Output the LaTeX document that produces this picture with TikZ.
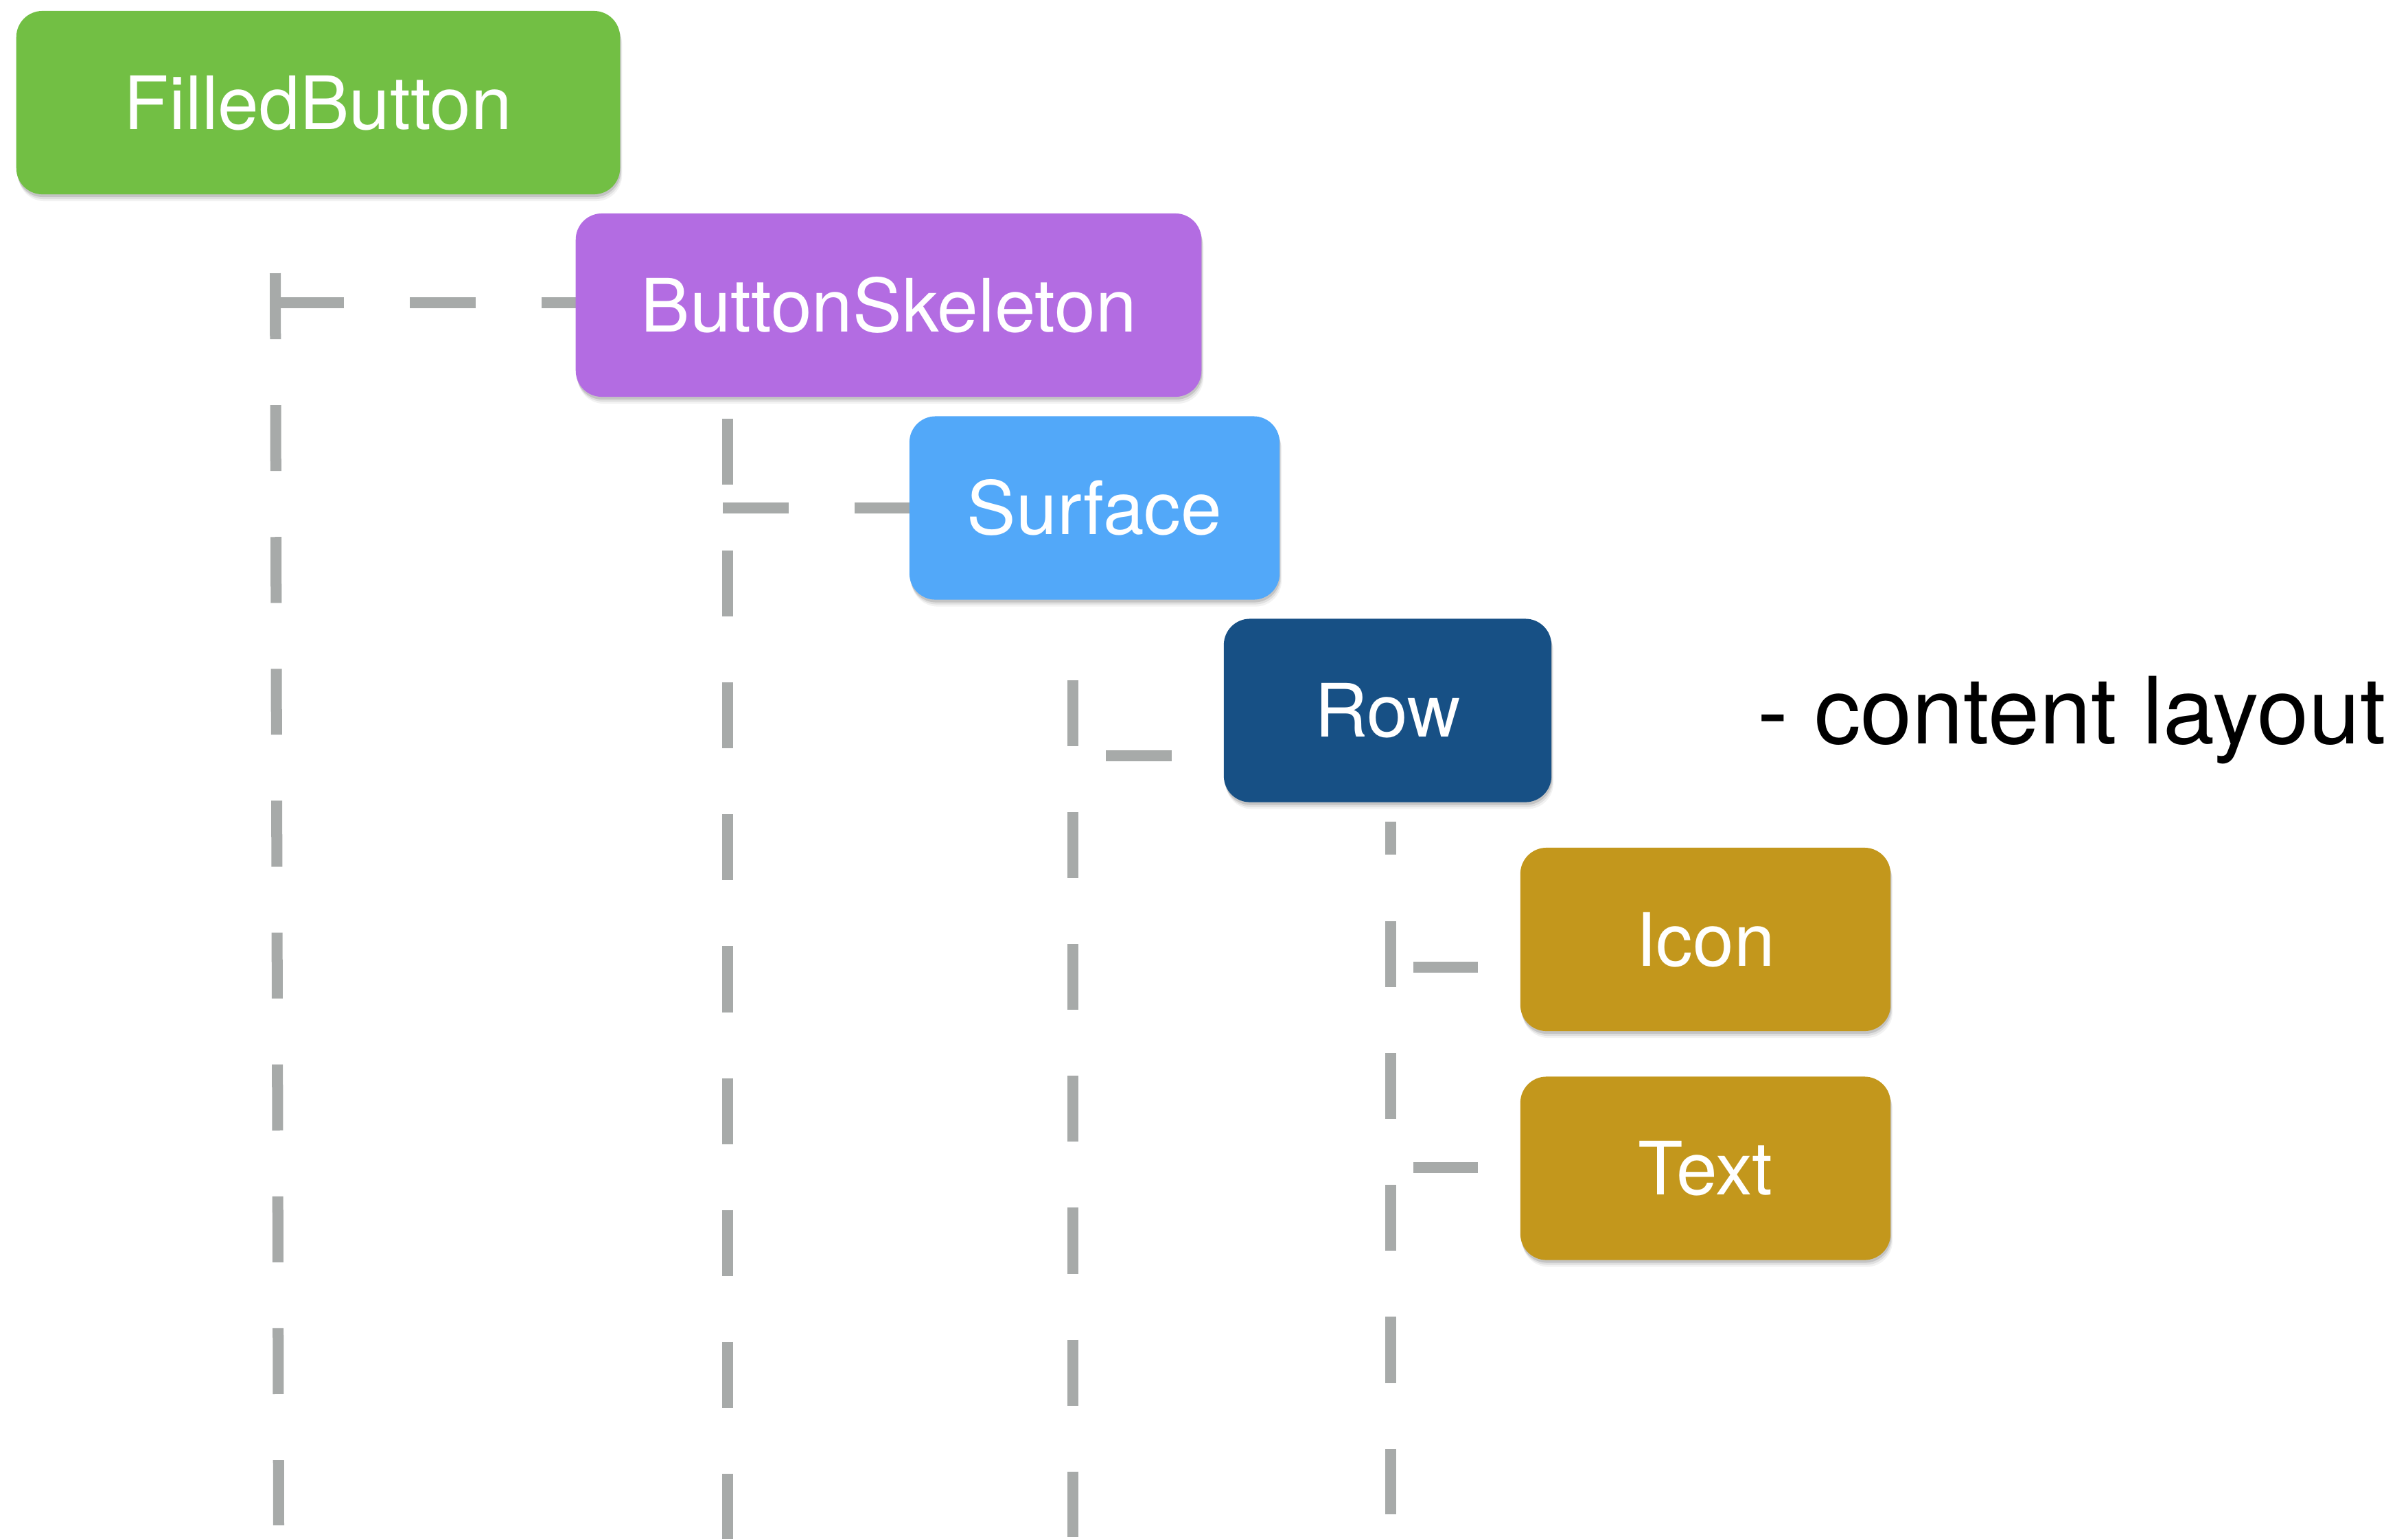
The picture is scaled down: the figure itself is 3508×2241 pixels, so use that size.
\documentclass[tikz,border=0pt]{standalone}
\usepackage{fontspec}
\setmainfont{TeX Gyre Heros}
\usetikzlibrary{shadows}
\pgfdeclarelayer{wires}
\pgfsetlayers{wires,main}
\definecolor{cgreen}{HTML}{72BF44}
\definecolor{cpurple}{HTML}{B36CE2}
\definecolor{cblue}{HTML}{52A8F9}
\definecolor{cnavy}{HTML}{175085}
\definecolor{cgold}{HTML}{C3971C}
\definecolor{cgray}{HTML}{A7AAA9}
\begin{document}
\begin{tikzpicture}[x=0.01cm,y=-0.01cm,
  card/.style={rounded corners=0.38cm, inner sep=0pt, outer sep=0pt, text=white,
    font=\fontsize{30.5pt}{36pt}\selectfont, text height=0.77cm, text depth=0pt,
    minimum height=2.67cm,
    general shadow={fill=black, opacity=0.05, shadow xshift=0.03cm, shadow yshift=-0.10cm},
    general shadow={fill=black, opacity=0.08, shadow xshift=0.02cm, shadow yshift=-0.07cm},
    general shadow={fill=black, opacity=0.12, shadow xshift=0.01cm, shadow yshift=-0.04cm}},
  wire/.style={draw=cgray, line width=0.16cm, dash pattern=on 0.96cm off 0.96cm}]
\useasboundingbox (0,0) rectangle (3508,2241);

% component boxes
\node[card, fill=cgreen,  minimum width=8.79cm] (filled) at (463.5,149.5) {FilledButton};
\node[card, fill=cpurple, minimum width=9.11cm] (skel)   at (1294.5,444.5) {ButtonSkeleton};
\node[card, fill=cblue,   minimum width=5.39cm] (surf)   at (1594.5,740) {Surface};
\node[card, fill=cnavy,   minimum width=4.77cm] (row)    at (2021.5,1035) {Row};
\node[card, fill=cgold,   minimum width=5.39cm] (icon)   at (2484.5,1368.5) {Icon};
\node[card, fill=cgold,   minimum width=5.39cm] (txt)    at (2484.5,1702) {Text};

\node[anchor=base west, inner sep=0pt, font=\fontsize{38.4pt}{45pt}\selectfont] (note)
  at (2560,1083) {- content layout};

% trunk and branch points
\coordinate (c1t) at (401,398);  \coordinate (c1b) at (406,2222);
\coordinate (c2t) at (1060,610); \coordinate (c2b) at (1060,2242);
\coordinate (c3t) at (1563,991); \coordinate (c3b) at (1563,2239);
\coordinate (c4t) at (2026,1197); \coordinate (c4b) at (2026,2206);
\coordinate (b1) at (405,441);
\coordinate (b2) at (1053,740);
\coordinate (b3) at (1563,1101);
\coordinate (b4) at (2026,1409);
\coordinate (b5) at (2026,1701);

\begin{pgfonlayer}{wires}
  \draw[wire] (c1t) -- (c1b);
  \draw[wire] (b1) -- (b1 -| skel.west);
  \draw[wire] (c2t) -- (c2b);
  \draw[wire] (b2) -- (b2 -| surf.west);
  \draw[wire] (c3t) -- (c3b);
  \draw[wire, dash phase=1.44cm] (b3) -- (b3 -| row.west);
  \draw[wire, dash pattern=on 0.48cm off 0.97cm on 0.96cm off 0.96cm on 0.96cm off 0.96cm
        on 0.96cm off 0.96cm on 0.96cm off 0.96cm on 0.96cm off 1cm] (c4t) -- (c4b);
  \draw[wire, dash pattern=on 0.94cm off 2cm, dash phase=2.61cm] (b4) -- (b4 -| icon.west);
  \draw[wire, dash pattern=on 0.94cm off 2cm, dash phase=2.61cm] (b5) -- (b5 -| txt.west);
\end{pgfonlayer}
\end{tikzpicture}
\end{document}
